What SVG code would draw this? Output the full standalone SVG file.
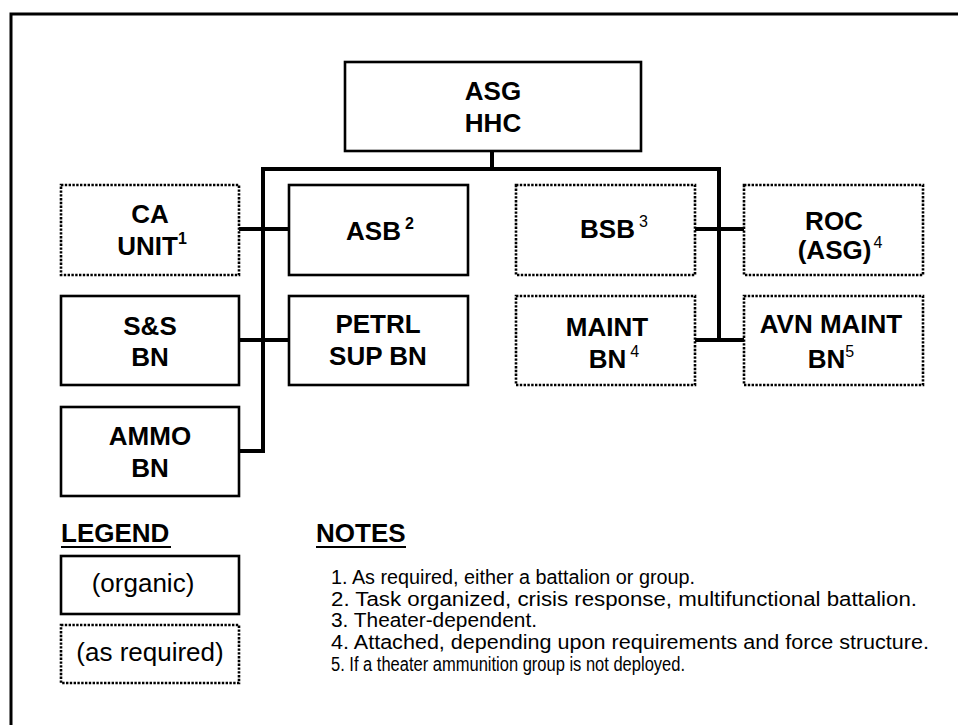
<svg xmlns="http://www.w3.org/2000/svg" width="958" height="725" viewBox="0 0 958 725">
<style>
.bg{fill:#ffffff}
.solid{fill:#ffffff;stroke:#000;stroke-width:2.6}
.dot{fill:#ffffff;stroke:#000;stroke-width:2.6;stroke-dasharray:2.4 1.4}
.conn{fill:none;stroke:#000;stroke-width:4}
.frame{fill:none;stroke:#000;stroke-width:3}
.lbl{font-family:"Liberation Sans",Arial,Helvetica,sans-serif;font-weight:bold;font-size:26px;fill:#000;text-anchor:middle}
.sup{font-size:16px}
.supn{font-size:16px;font-weight:normal}
.leg{font-family:"Liberation Sans",Arial,Helvetica,sans-serif;font-size:26px;fill:#000;text-anchor:middle}
.head{font-family:"Liberation Sans",Arial,Helvetica,sans-serif;font-weight:bold;font-size:26px;fill:#000}
.note{font-family:"Liberation Sans",Arial,Helvetica,sans-serif;font-size:20px;fill:#000}
.ul{stroke:#000;stroke-width:2}
</style>
<rect class="bg" x="0" y="0" width="958" height="725"/>
<path class="frame" d="M11,725 V14 H958"/>

<g id="connectors">
  <path class="conn" d="M492,151 V169"/>
  <path class="conn" d="M263,169 H719"/>
  <path class="conn" d="M263,167 V453"/>
  <path class="conn" d="M719,167 V342"/>
  <path class="conn" d="M239,229 H289"/>
  <path class="conn" d="M239,340 H289"/>
  <path class="conn" d="M239,451 H265"/>
  <path class="conn" d="M695,229 H744"/>
  <path class="conn" d="M695,340 H744"/>
</g>

<g id="asg-hhc">
  <rect class="solid" x="345" y="62" width="296" height="89"/>
  <text class="lbl" x="493" y="100">ASG</text>
  <text class="lbl" x="493" y="132">HHC</text>
</g>
<g id="ca-unit">
  <rect class="dot" x="61" y="185" width="178" height="90"/>
  <text class="lbl" x="150" y="223">CA</text>
  <text class="lbl" x="152" y="255">UNIT<tspan class="sup" dy="-11">1</tspan></text>
</g>
<g id="asb">
  <rect class="solid" x="289" y="185" width="179" height="90"/>
  <text class="lbl" x="380" y="240">ASB<tspan class="sup" dx="4" dy="-11">2</tspan></text>
</g>
<g id="ss-bn">
  <rect class="solid" x="61" y="296" width="178" height="89"/>
  <text class="lbl" x="150" y="335">S&amp;S</text>
  <text class="lbl" x="150" y="366">BN</text>
</g>
<g id="petrl-sup-bn">
  <rect class="solid" x="289" y="296" width="179" height="89"/>
  <text class="lbl" x="378" y="333">PETRL</text>
  <text class="lbl" x="378" y="365">SUP BN</text>
</g>
<g id="ammo-bn">
  <rect class="solid" x="61" y="407" width="178" height="89"/>
  <text class="lbl" x="150" y="445">AMMO</text>
  <text class="lbl" x="150" y="477">BN</text>
</g>
<g id="bsb">
  <rect class="dot" x="516" y="185" width="179" height="90"/>
  <text class="lbl" x="614" y="238">BSB<tspan class="supn" dx="4" dy="-11">3</tspan></text>
</g>
<g id="roc-asg">
  <rect class="dot" x="744" y="185" width="179" height="90"/>
  <text class="lbl" x="834" y="230">ROC</text>
  <text class="lbl" x="840" y="259">(ASG)<tspan class="supn" dx="2" dy="-11">4</tspan></text>
</g>
<g id="maint-bn">
  <rect class="dot" x="516" y="296" width="179" height="89"/>
  <text class="lbl" x="607" y="336">MAINT</text>
  <text class="lbl" x="614" y="368">BN<tspan class="supn" dx="4" dy="-11">4</tspan></text>
</g>
<g id="avn-maint-bn">
  <rect class="dot" x="744" y="296" width="179" height="89"/>
  <text class="lbl" x="831" y="333">AVN MAINT</text>
  <text class="lbl" x="831" y="368">BN<tspan class="supn" dy="-11">5</tspan></text>
</g>

<g id="legend">
  <text class="head" x="61" y="542">LEGEND</text>
  <line class="ul" x1="61" y1="547" x2="171" y2="547"/>
  <rect class="solid" x="61" y="556" width="178" height="58"/>
  <text class="leg" x="143" y="592">(organic)</text>
  <rect class="dot" x="61" y="625" width="178" height="58"/>
  <text class="leg" x="150" y="661">(as required)</text>
</g>

<g id="notes">
  <text class="head" x="316" y="542">NOTES</text>
  <line class="ul" x1="316" y1="547" x2="406" y2="547"/>
  <text class="note" x="331" y="584" textLength="364" lengthAdjust="spacingAndGlyphs">1. As required, either a battalion or group.</text>
  <text class="note" x="331" y="606" textLength="586" lengthAdjust="spacingAndGlyphs">2. Task organized, crisis response, multifunctional battalion.</text>
  <text class="note" x="331" y="627" textLength="206" lengthAdjust="spacingAndGlyphs">3. Theater-dependent.</text>
  <text class="note" x="331" y="649" textLength="598" lengthAdjust="spacingAndGlyphs">4. Attached, depending upon requirements and force structure.</text>
  <text class="note" x="331" y="671" textLength="354" lengthAdjust="spacingAndGlyphs">5. If a theater ammunition group is not deployed.</text>
</g>
</svg>
